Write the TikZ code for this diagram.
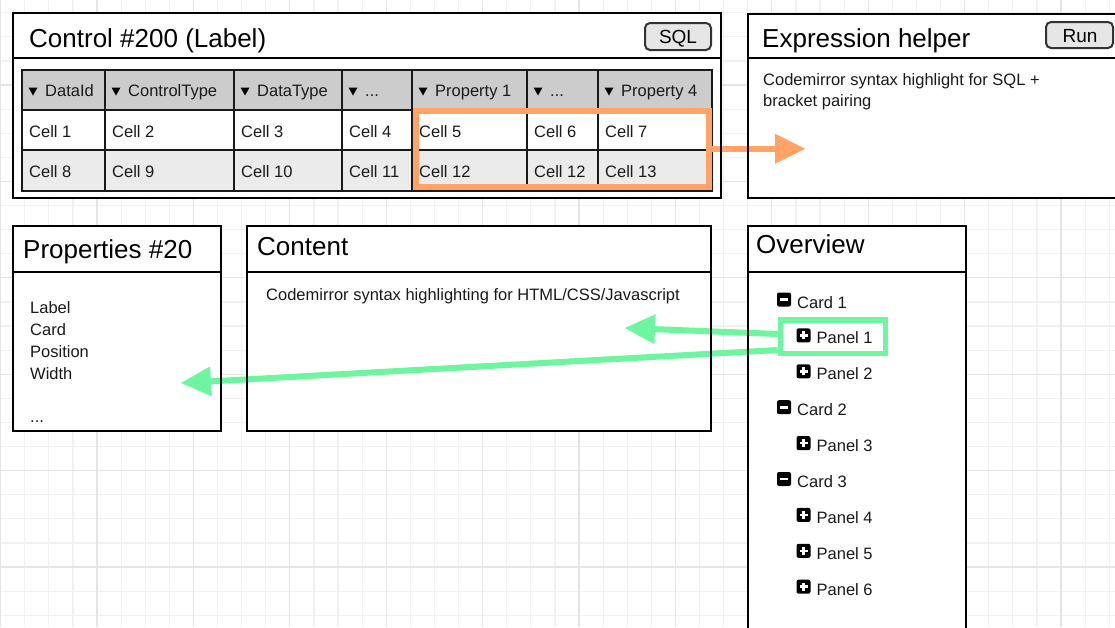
\documentclass[tikz,border=0pt]{standalone}
\usepackage{fontspec}
\setmainfont{Liberation Sans}
\usetikzlibrary{arrows.meta,positioning}
\definecolor{gridminor}{RGB}{241,241,241}
\definecolor{gridmajor}{RGB}{229,229,229}
\definecolor{headgray}{RGB}{204,204,204}
\definecolor{rowgray}{RGB}{235,235,235}
\definecolor{btngray}{RGB}{230,230,230}
\definecolor{hlorange}{RGB}{255,163,102}
\definecolor{hlgreen}{RGB}{110,245,160}
\definecolor{ink}{RGB}{26,26,26}

\begin{document}
\begin{tikzpicture}[x=1pt,y=-1pt,
  every node/.style={font=\fontsize{16.5}{20}\selectfont,text=ink,inner sep=0pt,anchor=base west},
  ttl/.style={font=\fontsize{26}{30}\selectfont,text=black},
  btnlabel/.style={font=\fontsize{19}{22}\selectfont,text=black,anchor=base},
  panelline/.style={draw=black,line width=2pt},
  btn/.style={draw=black!80,fill=btngray,line width=2pt,rounded corners=5pt},
  cellline/.style={draw=black!90,line width=1.2pt},
  hlarrow/.style={line width=6pt,-{Triangle[length=30pt,width=30pt,line width=0pt]}}]
\useasboundingbox (0,0) rectangle (1115,627);
\clip (0,0) rectangle (1115,627);
\fill[white] (0,0) rectangle (1115,627);
\foreach \i in {0,...,46} \draw[gridminor,line width=1.2pt] ({0.6+24.1*\i},0) -- ({0.6+24.1*\i},627);
\foreach \j in {0,...,25} \draw[gridminor,line width=1.2pt] (0,{12.7+24.1*\j}) -- (1115,{12.7+24.1*\j});
\foreach \i in {0,4,...,44} \draw[gridmajor,line width=1.2pt] ({0.6+24.1*\i},0) -- ({0.6+24.1*\i},627);
\foreach \j in {3,7,...,23} \draw[gridmajor,line width=1.2pt] (0,{12.7+24.1*\j}) -- (1115,{12.7+24.1*\j});
\coordinate (ctrlNW) at (13,13);
\coordinate (ctrlSE) at (721,198);
\coordinate (helpNW) at (748,14);
\coordinate (helpSE) at (1125,198);
\coordinate (propNW) at (13,226);
\coordinate (propSE) at (221,431);
\coordinate (contNW) at (247,226);
\coordinate (contSE) at (711,431);
\coordinate (overNW) at (748,226);
\coordinate (overSE) at (966,640);
\fill[white] (ctrlNW) rectangle (ctrlSE);
\fill[white] (helpNW) rectangle (helpSE);
\fill[white] (propNW) rectangle (propSE);
\fill[white] (contNW) rectangle (contSE);
\fill[white] (overNW) rectangle (overSE);
\fill[headgray] (22,70) rectangle (712,110);
\fill[rowgray] (22,150) rectangle (712,191);
\draw[cellline] (22,70) rectangle (712,191);
\draw[cellline] (22,110) -- (712,110);
\draw[cellline] (22,150) -- (712,150);
\foreach \c in {105,234,342,412,527,598} \draw[cellline] (\c,70) -- (\c,191);
\node[draw=hlorange,line width=6pt,minimum width=293pt,minimum height=76.5pt,anchor=center] (selcells) at (562.5,148.75) {};
\node[draw=hlgreen,line width=5.5pt,minimum width=105pt,minimum height=33.5pt,anchor=center] (pickpanel) at (833,336.75) {};
\coordinate (helpertip) at (805,148.75);
\coordinate (contenttip) at (625,328);
\coordinate (proptip) at (181,383);
\draw[hlarrow,hlorange] (selcells.east) -- (helpertip);
\draw[hlarrow,hlgreen] ([yshift=2.75pt]pickpanel.west) -- (contenttip);
\draw[hlarrow,hlgreen] ([yshift=-13.25pt]pickpanel.west) -- (proptip);
\draw[panelline] (ctrlNW) rectangle (ctrlSE);
\draw[panelline] (13,58) -- (721,58);
\draw[panelline] (helpNW) rectangle (helpSE);
\draw[panelline] (748,58) -- (1125,58);
\draw[panelline] (propNW) rectangle (propSE);
\draw[panelline] (13,272) -- (221,272);
\draw[panelline] (contNW) rectangle (contSE);
\draw[panelline] (247,272) -- (711,272);
\draw[panelline] (overNW) rectangle (overSE);
\draw[panelline] (748,272) -- (966,272);
\node[ttl] (ctrltitle) at (29,47) {Control \#200 (Label)};
\draw[btn] (645,23) rectangle (711,50);
\node[btnlabel] (sqlbtn) at (678,43) {SQL};
\foreach \c/\h [count=\k] in {22/DataId,105/ControlType,234/DataType,342/{...},412/Property 1,527/{...},598/Property 4} {
  \fill[black] (\c+6.5,87.5) -- (\c+15.5,87.5) -- (\c+11,95.5) -- cycle;
  \node (head\k) at (\c+23,96) {\h};
}
\foreach \c/\t [count=\k] in {22/Cell 1,105/Cell 2,234/Cell 3,342/Cell 4,412/Cell 5,527/Cell 6,598/Cell 7}
  \node (cellA\k) at (\c+7,137) {\t};
\foreach \c/\t [count=\k] in {22/Cell 8,105/Cell 9,234/Cell 10,342/Cell 11,412/Cell 12,527/Cell 12,598/Cell 13}
  \node (cellB\k) at (\c+7,177) {\t};
\node[ttl] (helpertitle) at (762,47) {Expression helper};
\draw[btn] (1046,22) rectangle (1113,48);
\node[btnlabel] (runbtn) at (1080,42) {Run};
\node (helperline1) at (763,85) {Codemirror syntax highlight for SQL +};
\node (helperline2) at (763,106) {bracket pairing};
\node[ttl] (proptitle) at (23,258) {Properties \#20};
\node (proplabel) at (30,313) {Label};
\node (propcard) at (30,335) {Card};
\node (proppos) at (30,357) {Position};
\node (propwidth) at (30,379) {Width};
\node (propmore) at (30,422) {...};
\node[ttl] (conttitle) at (257,255) {Content};
\node (contline) at (266,300) {Codemirror syntax highlighting for HTML/CSS/Javascript};
\node[ttl] (overtitle) at (756,253) {Overview};
\foreach \t/\lvl/\i in {Card 1/0/0,Panel 1/1/1,Panel 2/1/2,Card 2/0/3,Panel 3/1/4,Card 3/0/5,Panel 4/1/6,Panel 5/1/7,Panel 6/1/8} {
  \pgfmathsetmacro\by{308+35.9*\i}
  \pgfmathsetmacro\ix{777+19.5*\lvl}
  \fill[black,rounded corners=2pt] (\ix,\by-15.5) rectangle (\ix+14,\by-1.5);
  \draw[white,line width=2.6pt] (\ix+3,\by-8.5) -- (\ix+11,\by-8.5);
  \ifnum\lvl=1 \draw[white,line width=2.6pt] (\ix+7,\by-12.5) -- (\ix+7,\by-4.5); \fi
  \node (tree\i) at (\ix+20,\by) {\t};
}
\end{tikzpicture}
\end{document}
